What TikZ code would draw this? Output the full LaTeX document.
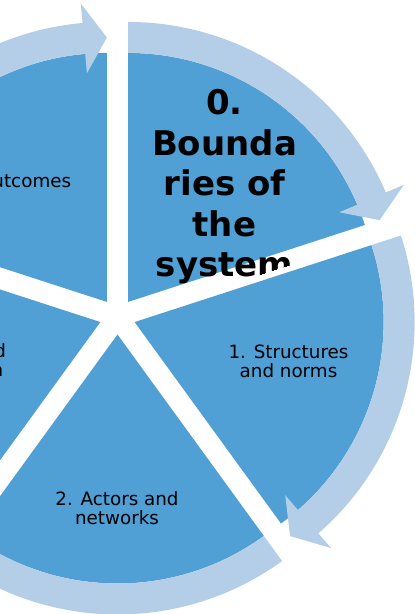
\documentclass[tikz,border=0pt]{standalone}
\usepackage{fontspec}
\setmainfont{DejaVu Sans}
\usetikzlibrary{calc}
\definecolor{segblue}{RGB}{80,159,213}
\definecolor{arrblue}{RGB}{180,206,232}
\begin{document}
\begin{tikzpicture}[x=1pt,y=1pt,
  seg/.style={fill=segblue},
  arr/.style={fill=arrblue},
  lbl/.style={font=\fontsize{18.3}{19.4}\selectfont, align=center, inner sep=0pt, anchor=base, text=black},
  bigl/.style={font=\bfseries\fontsize{34}{40.5}\selectfont, align=center, inner sep=0pt, anchor=base, text=black}]
\useasboundingbox (0,0) rectangle (415,614);
\clip (0,0) rectangle (415,614);
\coordinate (C) at (117.5,297.5);
\foreach \k/\b in {0/54,1/-18,2/-90,3/198,4/126}{
  \path (C) ++(\b:18pt) coordinate (A\k);
}
% segments
\foreach \k/\s/\e in {0/90/18,1/18/-54,2/-54/-126,3/234/162,4/162/90}{
  \fill[seg] (A\k) -- ([shift={(\e:249pt)}]A\k) arc[start angle=\e,end angle=\s,radius=249pt] -- cycle;
}
% label of segment 0, cut a little above segment 1
\begin{scope}
  \clip ([shift={(108:6.5pt)}]A1) ++(198:400pt) -- ++(18:800pt) -- ++(108:700pt) -- ++(198:800pt) -- cycle;
  \node[bigl] (t0) at (224.5,337) {0.\\Bounda\\ries of\\the\\system};
\end{scope}
% arrows
\foreach \k/\s/\e in {0/90/18,1/18/-54,2/-54/-126,3/234/162,4/162/90}{
  \pgfmathsetmacro\bb{\e+5}
  \fill[arr] ([shift={(\s:280pt)}]A\k) arc[start angle=\s,end angle=\bb,radius=280pt]
    -- ([shift={(\bb:299.5pt)}]A\k) -- ([shift={(\e:264.5pt)}]A\k)
    -- ([shift={(\bb:229.5pt)}]A\k) -- ([shift={(\bb:249pt)}]A\k)
    arc[start angle=\bb,end angle=\s,radius=249pt] -- cycle;
}
% labels
\node[lbl] (t1) at (288.5,236.3) {1. Structures\\and norms};
\node[lbl] (t2) at (117,89) {2. Actors and\\networks};
\node[lbl] (t3) at (-54.5,237) {3. Power and\\participation};
\node[lbl] (t4) at (12,426) {4. Outcomes};
\end{tikzpicture}
\end{document}
